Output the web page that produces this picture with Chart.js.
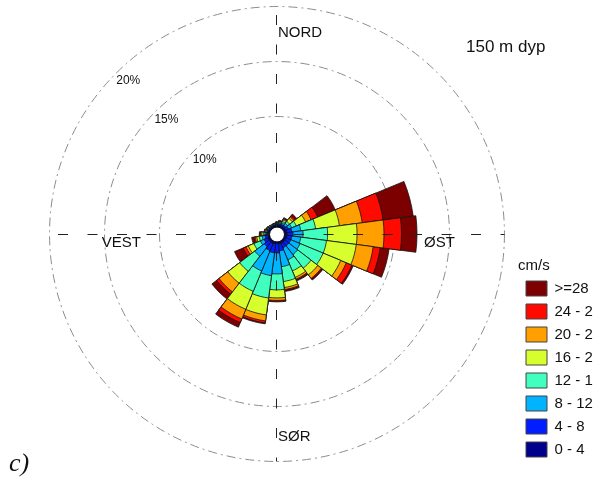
<!DOCTYPE html>
<html>
<head>
<meta charset="utf-8">
<script src="https://cdn.jsdelivr.net/npm/chart.js@4.4.1/dist/chart.umd.min.js"></script>
<style>
  html, body { margin: 0; padding: 0; background: #fff; overflow: hidden; }
  canvas { display: block; }
</style>
</head>
<body>
<canvas id="rose" width="593" height="484"></canvas>
<script>
// retning (grader fra nord), 24 sektorer a 15 grader
const retninger = [0, 15, 30, 45, 60, 75, 90, 105, 120, 135, 150, 165,
                   180, 195, 210, 225, 240, 255, 270, 285, 300, 315, 330, 345];

const hastighetsKlasser = ['0 - 4', '4 - 8', '8 - 12', '12 - 16', '16 - 20', '20 - 24', '24 - 28', '>=28'];
const klasseFarger = ['#00008c', '#001eff', '#00b4ff', '#41ffbe', '#d7ff2d', '#ffa000', '#ff0a00', '#7d0000'];

// prosent av tiden per klasse og retning
const s0_4   = [0.12, 0.14, 0.14, 0.14, 0.18, 0.23, 0.23, 0.23, 0.23, 0.23, 0.23, 0.23, 0.18, 0.23, 0.23, 0.23, 0.23, 0.14, 0.14, 0.12, 0.10, 0.09, 0.08, 0.09];
const s4_8   = [0.09, 0.09, 0.14, 0.18, 0.27, 0.45, 0.55, 0.45, 0.45, 0.45, 0.45, 0.64, 0.86, 0.82, 0.73, 0.55, 0.36, 0.27, 0.14, 0.09, 0.07, 0.06, 0.05, 0.06];
const s8_12  = [0.05, 0.09, 0.14, 0.23, 0.32, 0.82, 0.91, 0.82, 0.91, 1.00, 1.18, 1.45, 1.91, 2.09, 2.00, 1.09, 0.36, 0.27, 0.14, 0.06, 0.05, 0.05, 0.04, 0.04];
const s12_16 = [0.05, 0.07, 0.14, 0.23, 0.45, 1.36, 2.23, 2.36, 2.27, 1.55, 1.09, 1.36, 1.45, 2.05, 2.00, 1.73, 0.64, 0.27, 0.14, 0.06, 0.05, 0.04, 0.03, 0.04];
const s16_20 = [0.04, 0.06, 0.14, 0.32, 0.91, 2.18, 2.68, 2.73, 1.73, 0.77, 0.64, 0.55, 0.73, 1.55, 1.77, 1.36, 0.55, 0.23, 0.14, 0.07, 0.05, 0.04, 0.03, 0.03];
const s20_24 = [0.03, 0.05, 0.09, 0.18, 0.55, 2.09, 2.45, 1.55, 0.55, 0.41, 0.18, 0.18, 0.23, 0.55, 0.95, 1.00, 0.23, 0.14, 0.09, 0.05, 0.04, 0.03, 0.02, 0.03];
const s24_28 = [0.02, 0.03, 0.05, 0.14, 0.64, 1.91, 1.59, 0.64, 0.55, 0.09, 0.09, 0.09, 0.07, 0.18, 0.36, 0.27, 0.27, 0.09, 0.05, 0.03, 0.03, 0.02, 0.02, 0.02];
const s28    = [0.03, 0.05, 0.09, 0.18, 1.73, 2.77, 1.41, 0.82, 0.14, 0.09, 0.09, 0.09, 0.06, 0.09, 0.45, 0.55, 0.86, 0.23, 0.09, 0.04, 0.03, 0.02, 0.02, 0.02];

const ringVerdier = [10, 15, 20];

const serier = [s0_4, s4_8, s8_12, s12_16, s16_20, s20_24, s24_28, s28];

// kumulative summer, minste klasse tegnes overst
let sum = retninger.map(() => 0);
const kumulativ = serier.map(s => {
    sum = sum.map((v, j) => v + s[j]);
    return sum;
});

const datasett = hastighetsKlasser.map((navn, i) => ({
    label: navn,
    data: kumulativ[i],
    backgroundColor: klasseFarger[i],
    borderColor: '#111',
    borderWidth: 0.8
}));

const tekstFont = '"Liberation Sans", Arial, sans-serif';
Chart.defaults.font.family = tekstFont;
Chart.defaults.color = '#111';

// akser, hull i midten og tekster
const roseTegning = {
    id: 'roseTegning',
    afterDatasetsDraw(chart) {
        const s = chart.scales.r;
        const ctx = chart.ctx;
        const cx = s.xCenter;
        const cy = s.yCenter;
        const R = s.getDistanceFromCenterForValue(20);

        ctx.save();
        ctx.strokeStyle = '#222';
        ctx.lineWidth = 1;
        ctx.setLineDash([10, 19.5]);
        ctx.lineDashOffset = 21;
        ctx.beginPath();
        ctx.moveTo(cx - R, cy + 0.5);
        ctx.lineTo(cx + R, cy + 0.5);
        ctx.moveTo(cx - 0.5, cy - R);
        ctx.lineTo(cx - 0.5, cy + R);
        ctx.stroke();

        ctx.setLineDash([]);
        ctx.beginPath();
        ctx.arc(cx, cy + 0.5, s.getDistanceFromCenterForValue(0), 0, 2 * Math.PI);
        ctx.fillStyle = '#fff';
        ctx.fill();
        ctx.strokeStyle = '#000';
        ctx.stroke();

        ctx.fillStyle = '#111';
        ctx.textBaseline = 'middle';

        // prosent-etiketter langs nordvest
        ctx.font = '12px ' + tekstFont;
        ctx.textAlign = 'center';
        const vinkel = 44 * Math.PI / 180;
        ringVerdier.forEach(v => {
            const d = s.getDistanceFromCenterForValue(v) - 13.3;
            ctx.fillText(v + '%', cx - d * Math.sin(vinkel), cy + 0.5 - d * Math.cos(vinkel));
        });

        ctx.font = '15px ' + tekstFont;
        ctx.textAlign = 'left';
        ctx.fillText('NORD', cx + 1, cy - 201);
        ctx.fillText('SØR', cx + 1, cy + 203);
        ctx.fillText('ØST', cx + 147, cy + 9);
        ctx.textAlign = 'right';
        ctx.fillText('VEST', cx - 136, cy + 9);

        ctx.textAlign = 'left';
        ctx.font = '17px ' + tekstFont;
        ctx.fillText('150 m dyp', 466, 47);

        ctx.font = 'italic 26px "Liberation Serif", "Times New Roman", serif';
        ctx.fillText('c)', 9, 464);
        ctx.restore();
    }
};

new Chart(document.getElementById('rose'), {
    type: 'polarArea',
    data: {
        labels: retninger.map(r => r + '°'),
        datasets: datasett
    },
    options: {
        responsive: false,
        animation: false,
        layout: { padding: { left: 36, right: 0, top: 4, bottom: 19 } },
        scales: {
            r: {
                min: -0.68,
                max: 20.23,
                startAngle: -7.5,
                afterBuildTicks: scale => {
                    scale.ticks = [0].concat(ringVerdier).map(v => ({ value: v }));
                },
                ticks: { display: false },
                pointLabels: { display: false },
                angleLines: { display: false },
                grid: {
                    circular: true,
                    lineWidth: 1,
                    color: c => (c.tick && c.tick.value > 0) ? '#8c8c8c' : 'rgba(0,0,0,0)'
                },
                border: { dash: [9, 4, 2, 4] }
            }
        },
        plugins: {
            tooltip: { enabled: false },
            legend: {
                position: 'right',
                align: 'end',
                maxWidth: 75,
                title: {
                    display: true,
                    text: 'cm/s',
                    position: 'start',
                    padding: 0,
                    font: { size: 15, lineHeight: 1 }
                },
                labels: {
                    boxWidth: 21,
                    boxHeight: 15,
                    padding: 8,
                    font: { size: 15 },
                    generateLabels: chart => chart.data.datasets.map((ds, i) => ({
                        text: ds.label,
                        fillStyle: ds.backgroundColor,
                        strokeStyle: '#444',
                        lineWidth: 1,
                        hidden: false,
                        datasetIndex: i
                    })).reverse()
                }
            }
        }
    },
    plugins: [roseTegning]
});
</script>
</body>
</html>
